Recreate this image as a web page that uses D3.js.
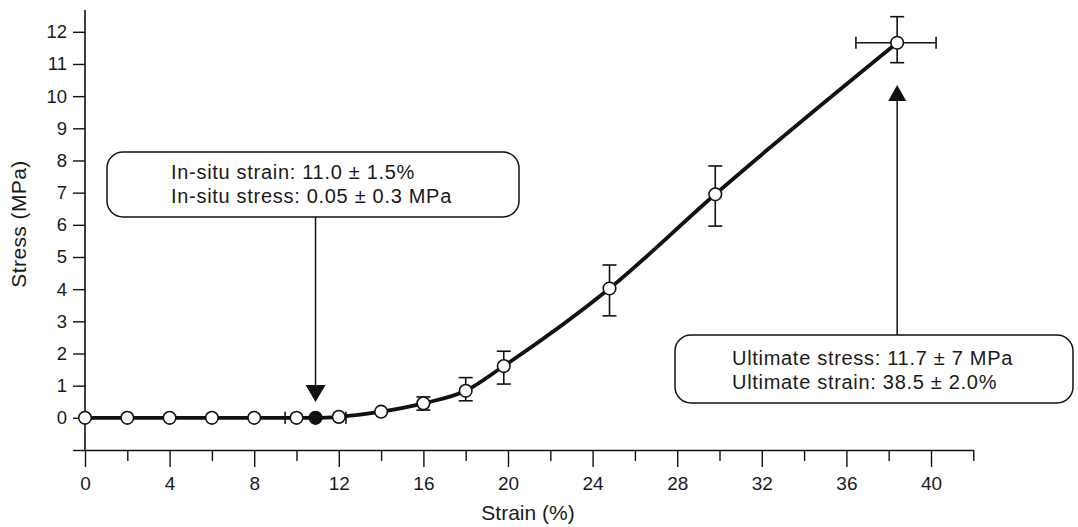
<!DOCTYPE html>
<html>
<head>
<meta charset="utf-8">
<script src="https://cdn.jsdelivr.net/npm/d3@7"></script>
<style>
  html, body { margin: 0; padding: 0; background: #fff; }
  svg { display: block; }
  text { font-family: "Liberation Sans", Arial, sans-serif; fill: #1a1a1a; }
</style>
</head>
<body>
<script>
// ---- data ----
const strain = [0, 2, 4, 6, 8, 10, 10.9, 12, 14, 16, 18, 19.8, 24.8, 29.8, 38.4];
const stress = [0, 0, 0, 0, 0, 0, 0, 0.03, 0.19, 0.45, 0.84, 1.61, 4.02, 6.95, 11.66];
const stressErrLow  = [null, null, null, null, null, null, null, null, null, 0.24, 0.53, 1.05, 3.17, 5.96, 11.04];
const stressErrHigh = [null, null, null, null, null, null, null, null, null, 0.65, 1.25, 2.07, 4.75, 7.83, 12.47];
const strainErrLow  = [null, null, null, null, null, null, 9.46, null, null, null, null, null, null, null, 36.45];
const strainErrHigh = [null, null, null, null, null, null, 12.34, null, null, null, null, null, null, null, 40.24];
const filled = [false, false, false, false, false, false, true, false, false, false, false, false, false, false, false];

const xTicks = [0, 2, 4, 6, 8, 10, 12, 14, 16, 18, 20, 22, 24, 26, 28, 30, 32, 34, 36, 38, 40, 42];
const xLabeled = [0, 4, 8, 12, 16, 20, 24, 28, 32, 36, 40];
const yTicks = [-1, 0, 1, 2, 3, 4, 5, 6, 7, 8, 9, 10, 11, 12];
const yLabeled = [0, 1, 2, 3, 4, 5, 6, 7, 8, 9, 10, 11, 12];

const xTitle = "Strain (%)";
const yTitle = "Stress (MPa)";
const note1 = ["In-situ strain: 11.0 \u00B1 1.5%", "In-situ stress: 0.05 \u00B1 0.3 MPa"];
const note2 = ["Ultimate stress: 11.7 \u00B1 7 MPa", "Ultimate strain: 38.5 \u00B1 2.0%"];

// ---- layout ----
const W = 1078, H = 527;
const FONT = "'Liberation Sans', Arial, sans-serif";
const svg = d3.select("body").append("svg").attr("width", W).attr("height", H);

const x = d3.scaleLinear().domain([0, 42]).range([85, 973.3]);
const y = d3.scaleLinear().domain([-1, 12]).range([450, 31.8]);

const data = strain.map((s, i) => ({
  x: s, y: stress[i],
  yl: stressErrLow[i], yh: stressErrHigh[i],
  xl: strainErrLow[i], xh: strainErrHigh[i],
  filled: filled[i]
}));

const ink = "#111";

// X axis
const gx = svg.append("g").attr("transform", `translate(0,${y(-1)})`)
  .call(d3.axisBottom(x).tickValues(xTicks).tickSize(17).tickSizeOuter(0)
    .tickFormat(d => xLabeled.includes(d) ? d : ""));
gx.select(".domain").attr("stroke", ink).attr("stroke-width", 1.6);
gx.selectAll(".tick line").attr("stroke", ink).attr("stroke-width", 1.4)
  .attr("y2", d => (d % 4 === 0 && d <= 40) ? 17 : 11);
gx.selectAll(".tick text").attr("y", 27).attr("dy", "0.71em")
  .style("font-size", "19px").style("font-family", FONT).attr("fill", "#1a1a1a");

// Y axis
const gy = svg.append("g").attr("transform", `translate(${x(0)},0)`)
  .call(d3.axisLeft(y).tickValues(yTicks).tickSize(12).tickSizeOuter(0)
    .tickFormat(d => yLabeled.includes(d) ? d : ""));
gy.select(".domain").attr("d", `M0,10V${y(-1)}`).attr("stroke", ink).attr("stroke-width", 1.6);
gy.selectAll(".tick line").attr("stroke", ink).attr("stroke-width", 1.4);
gy.selectAll(".tick text").attr("x", -18)
  .style("font-size", "18.5px").style("font-family", FONT).attr("fill", "#1a1a1a");

// Axis titles
svg.append("text").attr("x", 528).attr("y", 520).attr("text-anchor", "middle")
  .style("font-size", "21px").text(xTitle);
svg.append("text").attr("transform", `translate(26,${224}) rotate(-90)`).attr("text-anchor", "middle")
  .style("font-size", "21px").style("letter-spacing", "0.4px").text(yTitle);

// Curve
const line = d3.line().x(d => x(d.x)).y(d => y(d.y)).curve(d3.curveMonotoneX);
svg.append("path").datum(data).attr("d", line)
  .attr("fill", "none").attr("stroke", ink).attr("stroke-width", 3.8).attr("stroke-linejoin", "round");

// Vertical error bars
const capW = 7;
const ve = svg.append("g").attr("stroke", ink).attr("stroke-width", 1.6).attr("fill", "none");
data.filter(d => d.yl !== null).forEach(d => {
  ve.append("line").attr("x1", x(d.x)).attr("x2", x(d.x)).attr("y1", y(d.yl)).attr("y2", y(d.yh));
  ve.append("line").attr("x1", x(d.x) - capW).attr("x2", x(d.x) + capW).attr("y1", y(d.yl)).attr("y2", y(d.yl));
  ve.append("line").attr("x1", x(d.x) - capW).attr("x2", x(d.x) + capW).attr("y1", y(d.yh)).attr("y2", y(d.yh));
});
// Horizontal error bars
const capH = 6;
data.filter(d => d.xl !== null).forEach(d => {
  ve.append("line").attr("x1", x(d.xl)).attr("x2", x(d.xh)).attr("y1", y(d.y)).attr("y2", y(d.y));
  ve.append("line").attr("x1", x(d.xl)).attr("x2", x(d.xl)).attr("y1", y(d.y) - capH).attr("y2", y(d.y) + capH);
  ve.append("line").attr("x1", x(d.xh)).attr("x2", x(d.xh)).attr("y1", y(d.y) - capH).attr("y2", y(d.y) + capH);
});

// Markers
svg.append("g").selectAll("circle").data(data).join("circle")
  .attr("cx", d => x(d.x)).attr("cy", d => y(d.y)).attr("r", 6.3)
  .attr("fill", d => d.filled ? ink : "#fff").attr("stroke", ink).attr("stroke-width", 1.6);

// Annotation boxes
function box(x0, y0, x1, y1, lines, tx, ty) {
  svg.append("rect").attr("x", x0).attr("y", y0).attr("width", x1 - x0).attr("height", y1 - y0)
    .attr("rx", 16).attr("ry", 16).attr("fill", "#fff").attr("stroke", ink).attr("stroke-width", 1.5);
  lines.forEach((t, i) => {
    svg.append("text").attr("x", tx).attr("y", ty + i * 24)
      .style("font-size", "20px").style("letter-spacing", "0.7px").text(t);
  });
}
box(107, 152, 519, 217, note1, 171, 179);
box(675, 335, 1073, 403, note2, 732, 365);

// Arrows
const a1x = x(data[6].x);
svg.append("line").attr("x1", a1x).attr("x2", a1x).attr("y1", 217).attr("y2", 386)
  .attr("stroke", ink).attr("stroke-width", 1.5);
svg.append("path").attr("d", `M${a1x - 10},385 L${a1x + 10},385 L${a1x},402 Z`).attr("fill", ink);

const a2x = x(data[14].x);
svg.append("line").attr("x1", a2x).attr("x2", a2x).attr("y1", 335).attr("y2", 99)
  .attr("stroke", ink).attr("stroke-width", 1.5);
svg.append("path").attr("d", `M${a2x - 9},101 L${a2x + 9},101 L${a2x},85 Z`).attr("fill", ink);
</script>
</body>
</html>
